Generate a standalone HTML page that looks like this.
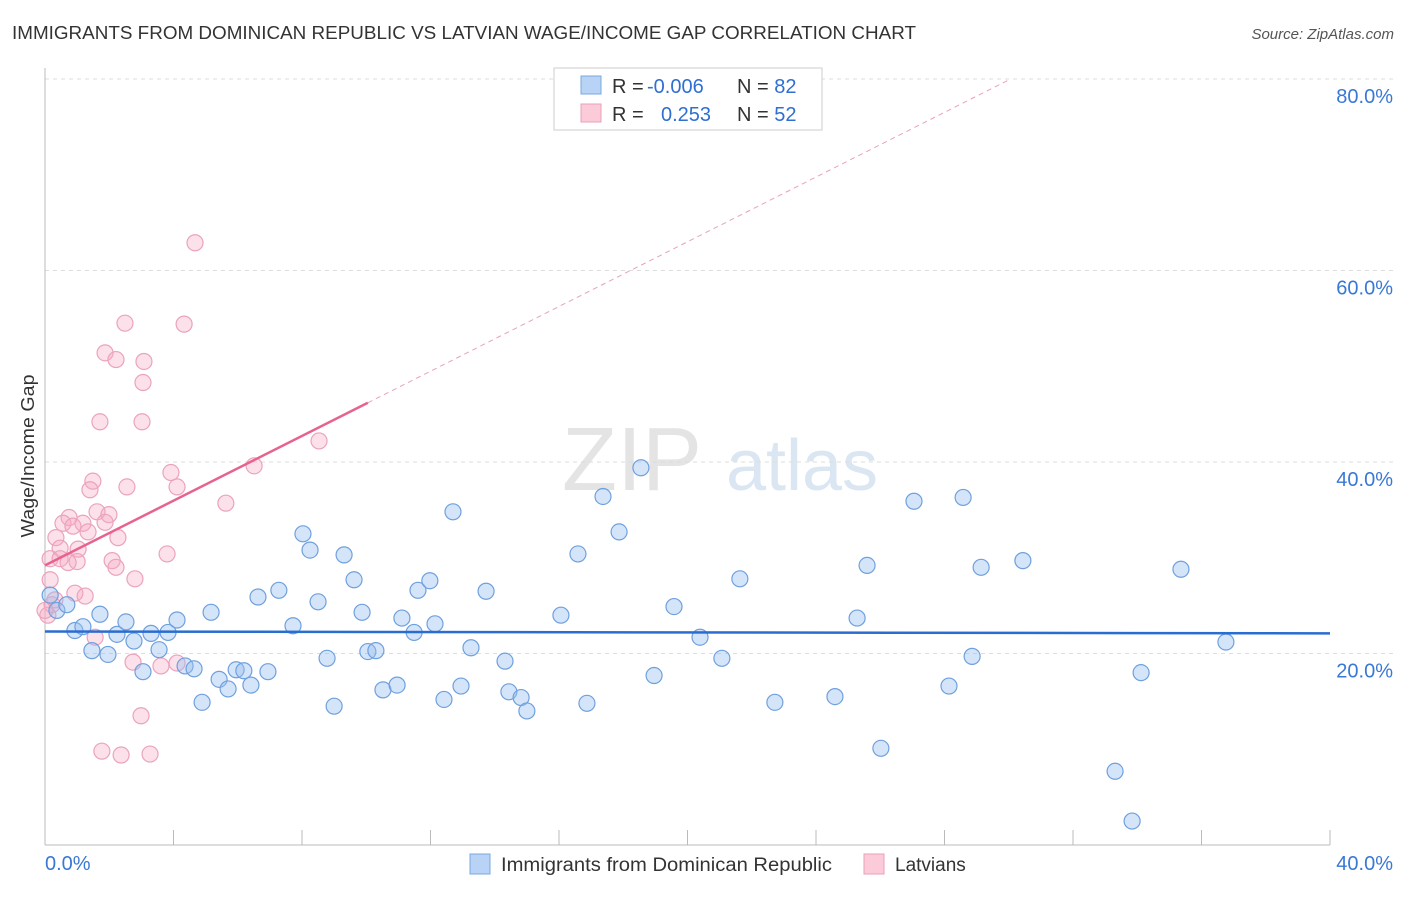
<!DOCTYPE html>
<html><head><meta charset="utf-8"><style>
body{margin:0;background:#fff;font-family:"Liberation Sans",sans-serif}
svg text{font-family:"Liberation Sans",sans-serif}
</style></head><body>
<svg id="chart" width="1406" height="892" xmlns="http://www.w3.org/2000/svg">
<text x="12" y="39" font-size="18" fill="#333" textLength="904" lengthAdjust="spacingAndGlyphs">IMMIGRANTS FROM DOMINICAN REPUBLIC VS LATVIAN WAGE/INCOME GAP CORRELATION CHART</text>
<text x="1394" y="39" font-size="15" fill="#555" text-anchor="end" font-style="italic">Source: ZipAtlas.com</text>
<text transform="translate(34,456) rotate(-90)" font-size="18" fill="#333" text-anchor="middle" textLength="163" lengthAdjust="spacingAndGlyphs">Wage/Income Gap</text>
<g>
<text x="632" y="490" font-size="90" fill="#e4e4e4" text-anchor="middle" font-family="Liberation Serif">ZIP</text>
<text x="802" y="490" font-size="72" fill="#dbe6f3" text-anchor="middle">atlas</text>
</g>
<g id="grid"></g><g id="axes"></g><g id="pts"></g><g id="trend"></g>
<g>
<rect x="554" y="68" width="268" height="62" fill="#fff" stroke="#ccc"/>
<rect x="581" y="76" width="20" height="18" fill="#b8d3f5" stroke="#7aa8e0"/>
<rect x="581" y="104" width="20" height="18" fill="#fbcbd9" stroke="#eaa0b8"/>
<text x="612" y="93" font-size="20" fill="#333">R = <tspan fill="#2f6fd1" x="647">-0.006</tspan></text>
<text x="737" y="93" font-size="20" fill="#333">N = <tspan fill="#2f6fd1">82</tspan></text>
<text x="612" y="121" font-size="20" fill="#333">R = <tspan fill="#2f6fd1" x="661">0.253</tspan></text>
<text x="737" y="121" font-size="20" fill="#333">N = <tspan fill="#2f6fd1">52</tspan></text>
</g>
<g>
<rect x="470" y="854" width="20" height="20" fill="#b8d3f5" stroke="#7aa8e0"/>
<text x="501" y="871" font-size="19" fill="#333" textLength="331" lengthAdjust="spacingAndGlyphs">Immigrants from Dominican Republic</text>
<rect x="864" y="854" width="20" height="20" fill="#fbcbd9" stroke="#eaa0b8"/>
<text x="895" y="871" font-size="19" fill="#333">Latvians</text>
</g>
</svg>
<script>
const blueX=[0.16,0.37,0.68,0.93,1.18,1.46,1.71,1.96,2.24,2.52,2.77,3.05,3.30,3.55,3.83,4.11,4.36,4.64,4.89,5.17,5.42,5.70,5.95,6.19,6.41,6.63,6.94,7.28,7.72,8.03,8.25,8.50,8.78,9.00,9.31,9.62,9.87,10.05,10.30,10.52,10.96,11.11,11.49,11.61,11.98,12.14,12.42,12.70,12.95,13.26,13.73,14.32,14.44,14.82,15.00,16.06,16.59,16.87,17.37,17.87,18.55,18.96,19.58,20.39,21.07,21.63,22.72,24.59,25.28,25.59,26.02,27.05,28.14,28.58,28.86,29.14,30.44,33.31,33.84,34.12,35.36,36.76];
const blueY=[26.1,24.5,25.1,22.4,22.8,20.3,24.1,19.9,22.0,23.3,21.3,18.1,22.1,20.4,22.2,23.5,18.7,18.4,14.9,24.3,17.3,16.3,18.3,18.2,16.7,25.9,18.1,26.6,22.9,32.5,30.8,25.4,19.5,14.5,30.3,27.7,24.3,20.2,20.3,16.2,16.7,23.7,22.2,26.6,27.6,23.1,15.2,34.8,16.6,20.6,26.5,19.2,16.0,15.4,14.0,24.0,30.4,14.8,36.4,32.7,39.4,17.7,24.9,21.7,19.5,27.8,14.9,15.5,23.7,29.2,10.1,35.9,16.6,36.3,19.7,29.0,29.7,7.7,2.5,18.0,28.8,21.2];
const pinkX=[4.67,2.49,4.33,1.87,2.21,3.08,3.05,1.71,3.02,8.53,6.51,3.92,1.49,1.40,4.11,2.55,5.63,1.62,1.99,0.75,0.56,1.18,0.87,1.87,1.34,2.27,0.34,0.47,1.03,3.80,0.16,0.47,2.09,1.00,0.72,2.21,2.80,0.16,0.93,1.25,0.22,0.09,1.56,2.74,3.61,4.11,2.99,1.77,2.37,3.27,0.31,0.0];
const pinkY=[62.9,54.5,54.4,51.4,50.7,50.5,48.3,44.2,44.2,42.2,39.6,38.9,38.0,37.1,37.4,37.4,35.7,34.8,34.5,34.2,33.6,33.6,33.3,33.7,32.7,32.1,32.1,31.0,30.9,30.4,29.9,29.9,29.7,29.6,29.5,29.0,27.8,27.7,26.3,26.0,25.1,24.0,21.7,19.1,18.7,19.0,13.5,9.8,9.4,9.5,25.6,24.5];
const yTicks=[20,40,60,80];
const xTickCount=10;
const blueTrend=[22.3,22.1];
const pinkTrend=[29.2,1.69];
const NS='http://www.w3.org/2000/svg';
const sx=v=>45+v*32.125, sy=v=>845-v*9.575;
function mk(p,t,a){const e=document.createElementNS(NS,t);for(const k in a)e.setAttribute(k,a[k]);p.appendChild(e);return e;}
const grid=document.getElementById('grid'),axes=document.getElementById('axes'),pts=document.getElementById('pts'),tr=document.getElementById('trend');
yTicks.forEach(v=>{
 const l=mk(grid,'line',{x1:45,x2:1394,y1:sy(v),y2:sy(v),stroke:'#ddd','stroke-dasharray':'4,4'});
 
 
 const t=mk(axes,'text',{x:1393,y:sy(v)+24,'font-size':20,fill:'#3a78d6','text-anchor':'end'});t.textContent=v.toFixed(1)+'%';
 
 
});
mk(axes,'line',{x1:45,x2:45,y1:68,y2:845,stroke:'#bbb'});
mk(axes,'line',{x1:45,x2:1330,y1:845,y2:845,stroke:'#bbb'});
for(let i=0;i<=xTickCount;i++){const x=sx(i*4);const l=mk(axes,'line',{x1:x,x2:x,y1:830,y2:845,stroke:'#bbb'});
 
 }
const t0=mk(axes,'text',{x:45,y:870,'font-size':20,fill:'#3a78d6'});t0.textContent='0.0%';


const t1=mk(axes,'text',{x:1393,y:870,'font-size':20,fill:'#3a78d6','text-anchor':'end'});t1.textContent='40.0%';


pinkX.forEach((x,i)=>{const c=mk(pts,'circle',{cx:sx(x),cy:sy(pinkY[i]),r:8,fill:'rgba(245,170,195,0.35)',stroke:'#eba3bb','stroke-width':1.2});
 
 });
blueX.forEach((x,i)=>{const c=mk(pts,'circle',{cx:sx(x),cy:sy(blueY[i]),r:8,fill:'rgba(150,190,240,0.4)',stroke:'#6fa0de','stroke-width':1.2});
 
 });
const bl=mk(tr,'line',{x1:sx(0),x2:sx(40),y1:sy(blueTrend[0]),y2:sy(blueTrend[1]),stroke:'#2a6dd0','stroke-width':2.5});


const pl=mk(tr,'line',{x1:sx(0),x2:sx(10.05),y1:sy(pinkTrend[0]),y2:sy(pinkTrend[0]+pinkTrend[1]*10.05),stroke:'#e8628e','stroke-width':2.5});


const xe=(80-pinkTrend[0])/pinkTrend[1];
const pd=mk(tr,'line',{x1:sx(10.05),x2:sx(xe),y1:sy(pinkTrend[0]+pinkTrend[1]*10.05),y2:sy(80),stroke:'#eaa0b8','stroke-width':1,'stroke-dasharray':'5,4'});


</script>
</body></html>
